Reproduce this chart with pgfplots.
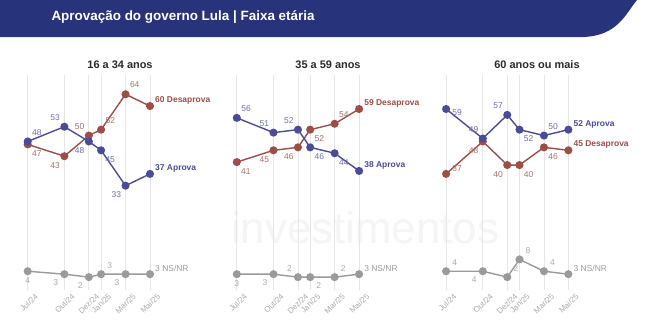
\documentclass[border=0pt]{standalone}
\usepackage{pgfplots}
\pgfplotsset{compat=1.18}
\usepackage{pgfplotstable}
\usepackage{fontspec}
\setmainfont{Liberation Sans}
\pgfkeys{/pgf/number format/assume math mode=true}

\definecolor{barc}{HTML}{27337A}
\definecolor{ap}{HTML}{4B4C98}
\definecolor{apl}{HTML}{6E6FB3}
\definecolor{de}{HTML}{9C4E47}
\definecolor{del}{HTML}{A9716A}
\definecolor{ns}{HTML}{9A9A9A}
\definecolor{nsl}{HTML}{ABABAB}
\definecolor{gridc}{HTML}{E6E6E6}
\definecolor{ttl}{HTML}{2B2B2B}
\definecolor{wm}{HTML}{F5F5F5}

% x in months since Jul/24; columns: value and label anchor angle
\pgfplotstableread{
x ap apa de dea ns nsa
0 48 225 47 135 4 90
3 53 315 43 45 3 45
5 48 45 50 315 2 45
6 45 135 52 225 3 225
8 33 45 64 225 3 45
10 37 0 60 0 3 0
}\tA
\pgfplotstableread{
x ap apa de dea ns nsa
0 56 225 41 135 3 90
3 51 315 45 45 3 45
5 52 315 46 45 2 315
6 46 135 52 135 2 135
8 44 135 54 225 2 225
10 38 0 59 0 3 0
}\tB
\pgfplotstableread{
x ap apa de dea ns nsa
0 59 160 37 205 4 225
3 49 315 48 45 4 45
5 57 315 40 45 2 225
6 52 135 40 135 8 225
8 50 225 46 135 4 225
10 52 0 45 0 3 0
}\tC

\pgfplotsset{panel/.style={
  anchor=south west, scale only axis, width=122.3bp, height=215bp,
  xmin=0, xmax=10, ymin=-2.4, ymax=70.5, clip=false,
  axis line style={draw=none}, tick style={draw=none}, ytick=\empty,
  xtick={0,3,5,6,8,10},
  xticklabels={Jul/24,Out/24,Dez/24,Jan/25,Mar/25,Mai/25},
  xmajorgrids, grid style={color=gridc, line width=0.9bp},
  xticklabel style={rotate=45, anchor=north east, inner sep=1bp,
    xshift=4bp, yshift=-5.5bp,
    font=\fontsize{8}{9}\selectfont, text=nsl},
}}

\newcommand\series[7]{%
\addplot[#4, line width=1.4bp, mark=*, mark size=3.3bp] table[x=x,y=#2]{#1};
\addplot[draw=none, mark=none, point meta=explicit symbolic, skip coords between index={5}{6},
  visualization depends on={rawy\as\ry},
  nodes near coords={\pgfmathprintnumber{\ry}},
  every node near coord/.append style={anchor=\pgfplotspointmeta, inner sep=6bp, text=#5,
  font=\fontsize{8.5}{10}\selectfont}] table[x=x,y=#2,meta=#3]{#1};
\addplot[draw=none, mark=none, point meta=y, skip coords between index={0}{5},
  nodes near coords={#7\pgfmathprintnumber{\pgfplotspointmeta}~#6},
  every node near coord/.append style={anchor=west, inner sep=1bp, xshift=4bp,
  yshift=5.5bp, text=#4, font=\fontsize{8.5}{10}\selectfont}] table[x=x,y=#2]{#1};
}

\newcommand\panel[1]{%
\series{#1}{ns}{nsa}{ns}{nsl}{NS/NR}{}
\series{#1}{de}{dea}{de}{del}{Desaprova}{\bfseries}
\series{#1}{ap}{apa}{ap}{apl}{Aprova}{\bfseries}
}

\begin{document}
\begin{tikzpicture}[x=1bp,y=1bp]
\useasboundingbox (0,0) rectangle (645,331);
\fill[white] (0,0) rectangle (645,331);
% watermark
\node[text=wm, font=\fontsize{44}{44}\selectfont] at (365,103) {investimentos};
% title bar
\fill[barc] (0,331) -- (637,331) .. controls (626,318) and (618,295) .. (583,294) -- (0,294) -- cycle;
\draw[color=gridc!70!barc!30, line width=0.8] (0,293.6) -- (585,293.6);
\node[anchor=base west, text=white, font=\bfseries\fontsize{13.5}{16}\selectfont] at (48,311) {Aprovação do governo Lula | Faixa etária};
% panel titles
\node[text=ttl, font=\bfseries\fontsize{11}{13}\selectfont] at (120,266) {16 a 34 anos};
\node[text=ttl, font=\bfseries\fontsize{11}{13}\selectfont] at (328,266) {35 a 59 anos};
\node[text=ttl, font=\bfseries\fontsize{11}{13}\selectfont] at (537,266) {60 anos ou mais};

\begin{axis}[panel, at={(27.7bp,40.9bp)}]
\panel{\tA}
\end{axis}
\begin{axis}[panel, at={(236.8bp,40.9bp)}]
\panel{\tB}
\end{axis}
\begin{axis}[panel, at={(446.1bp,40.9bp)}]
\panel{\tC}
\end{axis}
\end{tikzpicture}
\end{document}
